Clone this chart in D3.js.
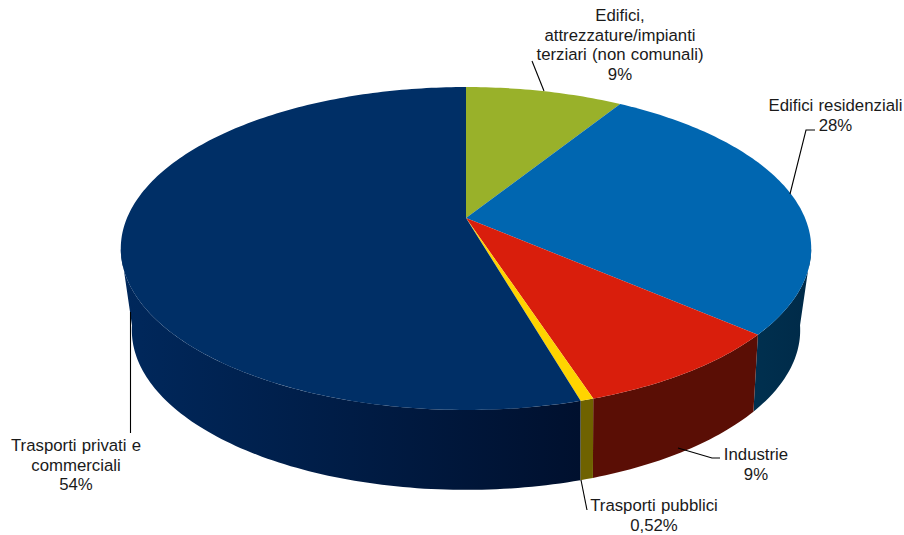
<!DOCTYPE html>
<html><head><meta charset="utf-8">
<script src="https://cdn.jsdelivr.net/npm/d3@7/dist/d3.min.js"></script>
<style>html,body{margin:0;padding:0;background:#fff}svg{display:block}
text{font-family:"Liberation Sans",Arial,sans-serif;font-size:16.8px;fill:#1a1a1a;text-anchor:middle;word-spacing:0.5px}</style>
</head><body><svg id="c" width="904" height="535"></svg>
<script>
const categories = ["Edifici, attrezzature/impianti terziari (non comunali)","Edifici residenziali","Industrie","Trasporti pubblici","Trasporti privati e commerciali"];
const values = [8.85, 27.55, 8.62, 0.52, 54.46];
const valueLabels = ["9%","28%","9%","0,52%","54%"];
const topColors = ["#99b12a","#0066b0","#d91e0c","#ffd400","#002f66"];
const sideColorsLeft = ["#4a5510","#00304f","#5a0e05","#6f6200","#00102e"];
const sideColorsRight = ["#4a5510","#002a48","#5a0e05","#6f6200","#00285c"];

const svg = d3.select("#c");
const cx=466;
const topPlane={cy:218,B:339,A:155.7,p:0.189};
const bottomPlane={cy:295,B:326,A:152,p:0.22};
const project=(a,P)=>{const X=Math.sin(a),Z=Math.cos(a),w=1+P.p*Z;
  return [cx+P.B*X/w, P.cy-P.A*Z/w];};
const rad=d3.scaleLinear().domain([0,360]).range([0,2*Math.PI]);
const arcs=d3.pie().sort(null).value(d=>d)(values);
const line=d3.line();
const sampled=(a0,a1)=>{const n=Math.max(2,Math.ceil((a1-a0)/rad(1)));return d3.range(n+1).map(i=>a0+(a1-a0)*i/n);};

const defs=svg.append("defs");
const visA=rad(101), visB=rad(259);
arcs.forEach((d,i)=>{
  const a0=Math.max(d.startAngle,visA), a1=Math.min(d.endAngle,visB);
  if(a1<=a0) return;
  const top=sampled(a0,a1).map(a=>project(a,topPlane));
  const bot=sampled(a0,a1).reverse().map(a=>project(a,bottomPlane));
  const g=defs.append("linearGradient").attr("id","g"+i).attr("gradientUnits","userSpaceOnUse")
    .attr("x1",d3.min(top.concat(bot),q=>q[0])).attr("x2",d3.max(top.concat(bot),q=>q[0])).attr("y1",0).attr("y2",0);
  g.append("stop").attr("offset",0).attr("stop-color",i===4?sideColorsRight[i]:sideColorsLeft[i]);
  g.append("stop").attr("offset",1).attr("stop-color",i===4?sideColorsLeft[i]:sideColorsRight[i]);
  svg.append("path").attr("d",line(top.concat(bot))+"Z").attr("fill",`url(#g${i})`);
});
arcs.forEach((d,i)=>{
  const pts=[[cx,topPlane.cy]].concat(sampled(d.startAngle,d.endAngle).map(a=>project(a,topPlane)));
  svg.append("path").attr("d",line(pts)+"Z").attr("fill",topColors[i]);
});

const leaders=[
  [[532,61],[544,91]],
  [[815,130],[806,130],[790,194]],
  [[678,448],[712,458],[720,458]],
  [[581,480],[587,510]],
  [[130.5,312],[130.5,433]]
];
svg.append("g").selectAll("path").data(leaders).join("path")
  .attr("d",d=>line(d)).attr("fill","none").attr("stroke","#000").attr("stroke-width",1.1);

const labelLines=[
  ["Edifici,","attrezzature/impianti","terziari (non comunali)",valueLabels[0]],
  ["Edifici residenziali",valueLabels[1]],
  ["Industrie",valueLabels[2]],
  ["Trasporti pubblici",valueLabels[3]],
  ["Trasporti privati e","commerciali",valueLabels[4]]
];
const labelAnchor=[[620,21],[835.5,111],[756,460],[654,511],[76,451]];
const lead=19.5;
labelLines.forEach((ls,i)=>{
  ls.forEach((t,j)=>svg.append("text").attr("x",labelAnchor[i][0]).attr("y",labelAnchor[i][1]+j*lead).text(t));
});
</script></body></html>
